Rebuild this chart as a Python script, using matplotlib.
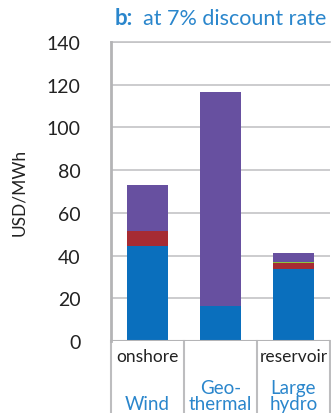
import matplotlib
matplotlib.use("Agg")
import matplotlib.pyplot as plt
import matplotlib.transforms as mtransforms
import numpy as np

plt.rcParams['font.family'] = ['Lato', 'DejaVu Sans']

# data (USD/MWh, stacked components)
techs = ["onshore", "", "reservoir"]
groups = ["Wind", "Geo-\nthermal", "Large\nhydro"]
seg_names = ["capital", "O&M", "other", "fuel/extra"]
capital = [44.5, 16.5, 33.8]
om = [7.2, 0.0, 2.5]
other = [0.0, 0.0, 0.7]
extra = [21.3, 100.0, 4.2]
yticks = [0, 20, 40, 60, 80, 100, 120, 140]

C_BLUE, C_RED, C_GREEN, C_PURP = "#0a6fbd", "#a62b33", "#8cc63f", "#6750a0"
C_TXT = "#2a86cc"
C_GRID = "#c4c4c6"

fig = plt.figure(figsize=(3.31, 4.14), dpi=100)
ax = fig.add_axes([111/331, 72/414, 219/331, 299/414])

x = np.arange(len(techs))
bottom = np.zeros(len(techs))
for vals, col in zip([capital, om, other, extra], [C_BLUE, C_RED, C_GREEN, C_PURP]):
    ax.bar(x, vals, width=0.56, bottom=bottom, color=col, zorder=3)
    bottom += np.array(vals)

ax.set_xlim(-0.5, 2.5)
ax.set_ylim(0, 140)
ax.set_yticks(yticks)
ax.tick_params(axis="y", length=0, pad=22, labelsize=14, labelcolor="#222222")
ax.tick_params(axis="x", length=0, labelbottom=False)
ax.yaxis.grid(True, color=C_GRID, lw=1.2, zorder=0)
ax.set_axisbelow(True)
for s in ["top", "right", "bottom"]:
    ax.spines[s].set_visible(False)
ax.spines["left"].set_color("#b4b4b6")
ax.spines["left"].set_linewidth(2)
ax.axhline(140, color=C_GRID, lw=1.2, zorder=0, clip_on=False)
ax.axhline(0, color="#b4b4b6", lw=1.5, zorder=4)

ax.set_ylabel("USD/MWh", fontsize=12.5, labelpad=14, color="#222222")

# category area below axis
tr = mtransforms.blended_transform_factory(ax.transData, ax.transAxes)
for xb in [-0.5, 0.5, 1.5, 2.5]:
    ax.plot([xb, xb], [0, -0.25], transform=tr, color="#bdbdbf", lw=1.5,
            clip_on=False)
for i, (t, g) in enumerate(zip(techs, groups)):
    ax.text(i, -0.05, t, transform=tr, ha="center", va="center", fontsize=12.5,
            color="#222222")
    ax.text(i, -0.238, g, transform=tr, ha="center", va="bottom", fontsize=13.5,
            color=C_TXT, linespacing=0.95, multialignment="center")

fig.text(115/331, 1 - 25/414, "b:", fontsize=16, color=C_TXT, fontweight="bold",
         ha="left", va="baseline")
fig.text(143/331, 1 - 25/414, "at 7% discount rate", fontsize=15.5, color=C_TXT,
         ha="left", va="baseline")
fig.savefig("out.png", dpi=100)
